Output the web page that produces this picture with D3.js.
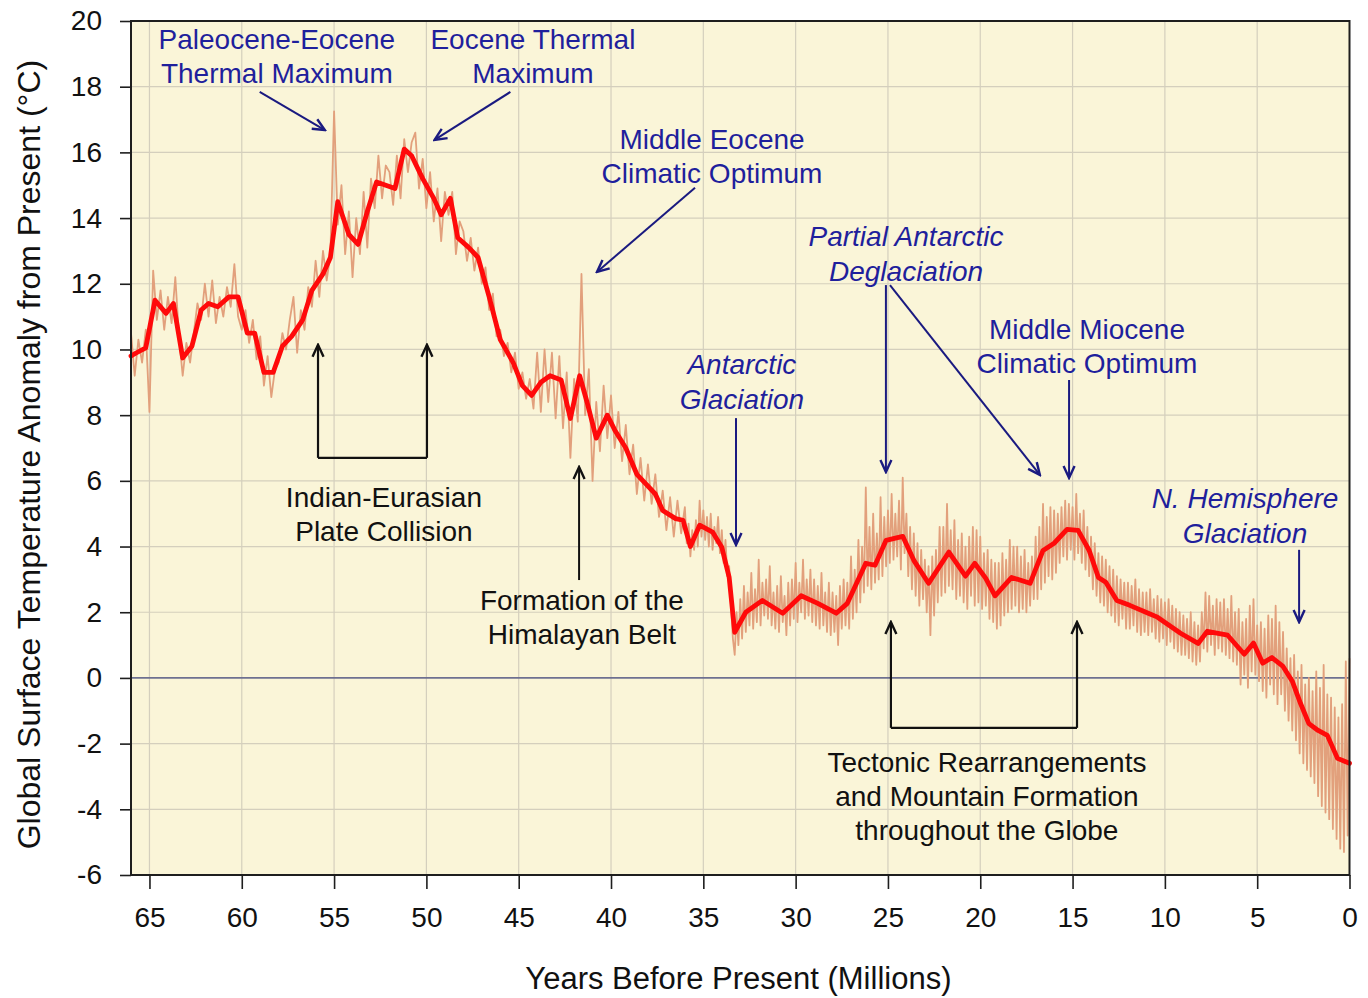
<!DOCTYPE html>
<html>
<head>
<meta charset="utf-8">
<script src="https://cdn.jsdelivr.net/npm/d3@7"></script>
<style>
  body { margin: 0; background: #ffffff; }
  svg { display: block; }
  text { font-family: "Liberation Sans", Arial, Helvetica, sans-serif; }
</style>
</head>
<body>
<svg id="chart" width="1368" height="998"></svg>
<script>
// Smoothed temperature anomaly (°C) against age (millions of years before present)
const smoothAge = [66.0, 65.7, 65.2, 64.7, 64.1, 63.7, 63.2, 62.7, 62.2, 61.8, 61.3, 60.7, 60.2, 59.7, 59.3,
  58.8, 58.3, 57.8, 57.3, 56.7, 56.2, 55.6, 55.2, 54.8, 54.2, 53.7, 53.2, 52.7, 52.2, 51.7, 51.2, 50.8,
  50.2, 49.6, 49.2, 48.7, 48.3, 47.7, 47.2, 46.6, 46.0, 45.3, 44.8, 44.3, 43.8, 43.3, 42.7, 42.2, 41.7,
  41.3, 40.8, 40.2, 39.8, 39.2, 38.6, 38.1, 37.6, 37.2, 36.5, 36.1, 35.7, 35.2, 34.5, 34.0, 33.6, 33.3,
  32.7, 31.8, 30.7, 29.7, 28.8, 27.8, 27.2, 26.2, 25.7, 25.1, 24.2, 23.6, 22.8, 21.7, 20.8, 20.3, 19.7,
  19.2, 18.3, 17.3, 16.6, 16.0, 15.3, 14.7, 14.1, 13.6, 13.2, 12.6, 11.9, 10.9, 10.4, 9.15, 8.2, 7.7,
  6.6, 5.7, 5.2, 4.7, 4.2, 3.6, 3.1, 2.65, 2.2, 1.7, 1.2, 0.65, 0.0];
const smoothTemp = [9.8, 9.9, 10.05, 11.5, 11.1, 11.4, 9.74, 10.1, 11.2, 11.4, 11.3, 11.6, 11.6, 10.5, 10.5,
  9.3, 9.3, 10.1, 10.4, 10.9, 11.8, 12.3, 12.8, 14.5, 13.5, 13.2, 14.2, 15.1, 15.0, 14.9, 16.1, 15.9,
  15.2, 14.6, 14.1, 14.6, 13.4, 13.1, 12.8, 11.6, 10.3, 9.6, 8.9, 8.6, 9.0, 9.2, 9.07, 7.9, 9.2,
  8.4, 7.3, 8.0, 7.55, 7.0, 6.2, 5.9, 5.6, 5.1, 4.85, 4.8, 4.0, 4.65, 4.44, 3.98, 3.06, 1.39,
  2.0, 2.36, 1.97, 2.5, 2.27, 1.97, 2.27, 3.49, 3.43, 4.19, 4.31, 3.58, 2.88, 3.83, 3.1, 3.49, 3.03,
  2.5, 3.06, 2.88, 3.88, 4.1, 4.52, 4.49, 3.88, 3.06, 2.91, 2.36, 2.21, 1.97, 1.85, 1.36, 1.05, 1.42,
  1.3, 0.72, 1.06, 0.45, 0.62, 0.35, -0.1, -0.78, -1.39, -1.6, -1.75, -2.45, -2.6];

// Full-resolution record, older part: every 0.2 Myr from 66.0 to 36.2 Myr
const olderFirstAge = 66.0;
const olderInterval = 0.2;
const olderDetailTemp = [
  10.5, 9.2, 10.3, 9.6, 10.6, 8.1, 12.4, 10.9, 11.8, 10.6,
  11.6, 10.8, 12.2, 10.4, 9.2, 10.2, 9.6, 10.5, 11.4, 10.9,
  12.0, 11.0, 12.1, 10.8, 11.6, 11.0, 11.9, 11.3, 12.6, 11.0,
  10.6, 11.2, 10.2, 10.9, 9.7, 10.4, 8.9, 9.8, 8.55, 9.4,
  9.6, 10.5, 10.0, 10.9, 11.6, 9.9, 11.2, 10.6, 11.9, 11.3,
  12.7, 11.6, 13.0, 12.1, 12.9, 17.25, 13.8, 15.0, 12.9, 14.2,
  12.2, 14.0, 12.9, 14.8, 13.1, 15.2, 14.3, 15.9, 14.6, 15.6,
  15.4, 14.4, 15.9, 14.6, 16.4, 15.4, 16.3, 16.6, 14.9, 15.8,
  14.3, 15.4, 13.9, 14.9, 13.3, 14.8, 14.1, 14.8, 12.9, 13.9,
  13.6, 12.7, 13.4, 12.4, 13.1, 12.0, 12.5, 11.2, 11.7, 10.4,
  10.6, 9.8, 10.2, 9.3, 9.9, 8.8, 9.3, 8.5, 9.1, 8.2,
  9.9, 8.1, 10.0, 8.4, 9.9, 7.9, 9.8, 7.6, 9.3, 6.7,
  9.1, 7.8, 12.3, 8.0, 9.4, 6.0, 8.4, 6.9, 8.9, 7.3,
  8.6, 7.0, 8.1, 6.6, 7.7, 6.2, 7.1, 5.6, 6.7, 5.4,
  6.5, 5.3, 6.2, 4.9, 5.7, 4.5, 5.5, 4.3, 5.4, 4.4
];

// Full-resolution record, younger part: every 0.1 Myr from 36.0 Myr to the present
const youngerFirstAge = 36.0;
const youngerInterval = 0.1;
const youngerDetailTemp = [
  5.2, 4.1, 4.7, 3.7, 4.5, 3.9, 4.8, 4.0, 5.4, 4.3,
  5.1, 4.2, 4.9, 4.0, 5.0, 3.9, 4.6, 4.1, 4.9, 3.8,
  4.5, 3.5, 4.2, 3.1, 3.4, 2.2, 1.2, 0.7, 2.0, 1.0,
  2.4, 1.2, 2.8, 1.4, 2.6, 1.6, 3.2, 1.5, 2.7, 1.7,
  3.6, 1.6, 2.9, 1.9, 3.0, 1.8, 3.4, 1.6, 2.6, 1.5,
  2.8, 1.4, 3.1, 1.7, 2.5, 1.3, 2.9, 1.6, 3.0, 1.8,
  3.5, 1.7, 2.9, 2.0, 3.6, 1.8, 3.0, 1.9, 3.3, 1.7,
  3.0, 1.6, 2.8, 1.5, 3.2, 1.6, 2.6, 1.4, 2.9, 1.3,
  2.6, 1.4, 2.5, 1.0, 2.8, 1.5, 3.0, 1.6, 2.9, 1.5,
  3.7, 1.8, 3.3, 2.0, 4.2, 2.3, 4.0, 2.6, 5.8, 2.8,
  4.6, 2.7, 5.0, 2.9, 4.4, 3.0, 5.5, 3.1, 4.9, 3.4,
  5.1, 3.5, 5.6, 3.6, 5.0, 3.7, 5.4, 3.3, 6.1, 3.8,
  5.0, 3.1, 4.6, 2.7, 4.4, 2.5, 4.1, 2.2, 3.9, 2.4,
  3.6, 2.0, 3.4, 1.3, 3.7, 1.9, 3.9, 2.3, 4.6, 2.5,
  4.6, 2.6, 5.3, 2.8, 4.5, 2.7, 4.8, 2.4, 4.2, 2.5,
  4.4, 2.3, 4.0, 2.1, 4.3, 2.5, 4.6, 2.2, 4.5, 2.3,
  4.3, 2.1, 3.8, 2.2, 3.9, 1.8, 3.6, 1.7, 3.5, 1.5,
  3.5, 1.6, 3.8, 1.9, 3.6, 2.0, 4.2, 2.1, 4.0, 2.2,
  4.0, 2.0, 3.7, 2.1, 3.9, 2.0, 3.5, 2.2, 3.7, 2.4,
  4.3, 2.4, 4.6, 2.7, 5.3, 2.9, 4.9, 3.1, 5.2, 3.0,
  5.1, 3.2, 5.0, 3.5, 5.2, 3.7, 5.4, 3.6, 5.3, 3.9,
  5.2, 3.6, 5.6, 3.8, 5.0, 3.5, 5.1, 3.3, 4.6, 3.1,
  4.3, 2.7, 4.1, 2.5, 3.8, 2.3, 3.7, 2.2, 3.6, 2.0,
  3.4, 1.9, 3.3, 1.7, 3.1, 1.6, 3.0, 1.8, 2.9, 1.5,
  2.9, 1.5, 2.8, 1.6, 3.0, 1.4, 2.7, 1.3, 2.6, 1.4,
  2.6, 1.3, 2.7, 1.4, 2.4, 1.2, 2.5, 1.1, 2.4, 1.2,
  2.3, 1.0, 2.4, 1.1, 2.2, 0.9, 2.1, 0.8, 2.0, 0.7,
  1.9, 0.7, 1.8, 0.6, 2.0, 0.5, 1.7, 0.4, 1.6, 0.5,
  2.0, 0.9, 2.6, 0.8, 2.5, 1.0, 2.2, 0.7, 2.4, 0.9,
  2.3, 0.8, 2.4, 0.7, 2.1, 0.6, 2.5, 0.5, 2.0, 0.4,
  2.1, -0.2, 1.7, 0.1, 1.8, -0.3, 2.2, 0.2, 2.4, 0.1,
  1.6, -0.1, 1.7, -0.4, 1.5, -0.6, 1.9, -0.2, 1.8, -0.5,
  2.2, -0.8, 1.7, -0.5, 1.4, -1.0, 0.9, -1.3, 0.6, -1.6,
  0.7, -1.9, 0.2, -2.3, 0.4, -2.6, -0.2, -2.8, 0.0, -3.0,
  -0.4, -3.2, 0.2, -3.6, -0.3, -3.9, 0.4, -4.1, -0.5, -4.3,
  -0.6, -4.6, -0.9, -4.9, -1.2, -5.2, -0.8, -5.3, 0.5, -4.8,
  0.6
];

const yTickValues = [20, 18, 16, 14, 12, 10, 8, 6, 4, 2, 0, -2, -4, -6];
const xTickValues = [65, 60, 55, 50, 45, 40, 35, 30, 25, 20, 15, 10, 5, 0];

// Labelled events: text anchor = (age, anomaly) of the first line's baseline
const eventNotes = [
  { lines: ["Paleocene-Eocene", "Thermal Maximum"], age: 58.1, temp: 19.16, tone: "blue", italic: false },
  { lines: ["Eocene Thermal", "Maximum"], age: 44.23, temp: 19.16, tone: "blue", italic: false },
  { lines: ["Middle Eocene", "Climatic Optimum"], age: 34.53, temp: 16.10, tone: "blue", italic: false },
  { lines: ["Partial Antarctic", "Deglaciation"], age: 24.02, temp: 13.15, tone: "blue", italic: true },
  { lines: ["Middle Miocene", "Climatic Optimum"], age: 14.22, temp: 10.33, tone: "blue", italic: false },
  { lines: ["Antarctic", "Glaciation"], age: 32.91, temp: 9.26, tone: "blue", italic: true },
  { lines: ["N. Hemisphere", "Glaciation"], age: 5.66, temp: 5.18, tone: "blue", italic: true },
  { lines: ["Indian-Eurasian", "Plate Collision"], age: 52.3, temp: 5.21, tone: "black", italic: false },
  { lines: ["Formation of the", "Himalayan Belt"], age: 41.58, temp: 2.07, tone: "black", italic: false },
  { lines: ["Tectonic Rearrangements", "and Mountain Formation", "throughout the Globe"], age: 19.64, temp: -2.86, tone: "black", italic: false }
];

// Pointer arrows, given as [age, anomaly] start and end
const pointerArrows = [
  { from: [59.03, 17.84], to: [55.5, 16.68], tone: "blue" },
  { from: [45.45, 17.84], to: [49.56, 16.38], tone: "blue" },
  { from: [35.45, 14.92], to: [40.76, 12.36], tone: "blue" },
  { from: [25.11, 11.96], to: [25.11, 6.27], tone: "blue" },
  { from: [24.89, 11.96], to: [16.77, 6.18], tone: "blue" },
  { from: [15.19, 9.07], to: [15.19, 6.09], tone: "blue" },
  { from: [33.23, 7.91], to: [33.23, 4.05], tone: "blue" },
  { from: [2.73, 3.9], to: [2.73, 1.7], tone: "blue" },
  { from: [41.73, 2.98], to: [41.73, 6.42], tone: "black" }
];

// U-shaped brackets with upward arrows at both ends
const brackets = [
  { left: 55.87, right: 49.97, top: 10.14, bottom: 6.70 },
  { left: 24.84, right: 14.76, top: 1.70, bottom: -1.52 }
];

const colors = {
  page: "#ffffff",
  plot: "#faf5d8",
  grid: "#d4cfbd",
  zero: "#6e7090",
  frame: "#1e1e1e",
  detail: "#e2a07c",
  smooth: "#ff0a0a",
  blue: "#1f1f9c",
  blueArrow: "#1a1a80",
  black: "#111111"
};

const svg = d3.select("#chart");
const W = 1368, H = 998;
const margin = { top: 21, right: 18.5, bottom: 123, left: 131 };
const iw = W - margin.left - margin.right;
const ih = H - margin.top - margin.bottom;

const x = d3.scaleLinear().domain([66, 0]).range([0, iw]);
const y = d3.scaleLinear().domain([-6, 20]).range([ih, 0]);

const defs = svg.append("defs");
function addMarker(id, color) {
  defs.append("marker")
    .attr("id", id)
    .attr("viewBox", "-14 -8 16 16")
    .attr("refX", 0).attr("refY", 0)
    .attr("markerWidth", 16).attr("markerHeight", 16)
    .attr("markerUnits", "userSpaceOnUse")
    .attr("orient", "auto")
    .append("path")
    .attr("d", "M-12,-5.5 L0,0 L-12,5.5")
    .attr("fill", "none")
    .attr("stroke", color)
    .attr("stroke-width", 2.4)
    .attr("stroke-linejoin", "miter");
}
addMarker("head-blue", colors.blueArrow);
addMarker("head-black", colors.black);

const g = svg.append("g").attr("transform", `translate(${margin.left},${margin.top})`);

// plot background
g.append("rect").attr("width", iw).attr("height", ih).attr("fill", colors.plot);

// grid
g.append("g").selectAll("line").data(yTickValues.filter(v => v !== 0 && v !== 20 && v !== -6))
  .join("line")
  .attr("x1", 0).attr("x2", iw)
  .attr("y1", d => y(d)).attr("y2", d => y(d))
  .attr("stroke", colors.grid).attr("stroke-width", 1.2);
g.append("g").selectAll("line").data(xTickValues.filter(v => v !== 0))
  .join("line")
  .attr("x1", d => x(d)).attr("x2", d => x(d))
  .attr("y1", 0).attr("y2", ih)
  .attr("stroke", colors.grid).attr("stroke-width", 1.2);

// zero line
g.append("line")
  .attr("x1", 0).attr("x2", iw)
  .attr("y1", y(0)).attr("y2", y(0))
  .attr("stroke", colors.zero).attr("stroke-width", 1.6);

// series
const detailPoints = olderDetailTemp.map((v, i) => [olderFirstAge - i * olderInterval, v])
  .concat(youngerDetailTemp.map((v, i) => [youngerFirstAge - i * youngerInterval, v]));
const line = d3.line().x(d => x(d[0])).y(d => y(d[1]));

g.append("path")
  .datum(detailPoints)
  .attr("d", line)
  .attr("fill", "none")
  .attr("stroke", colors.detail)
  .attr("stroke-width", 1.8)
  .attr("stroke-linejoin", "round");

const smoothPoints = smoothAge.map((a, i) => [a, smoothTemp[i]]);
g.append("path")
  .datum(smoothPoints)
  .attr("d", line)
  .attr("fill", "none")
  .attr("stroke", colors.smooth)
  .attr("stroke-width", 4.8)
  .attr("stroke-linejoin", "round")
  .attr("stroke-linecap", "round");

// frame
g.append("rect").attr("width", iw).attr("height", ih)
  .attr("fill", "none").attr("stroke", colors.frame).attr("stroke-width", 2);

// axes
const plainNumber = d => String(d);
const yAxis = d3.axisLeft(y).tickValues(yTickValues).tickSize(11).tickPadding(18).tickFormat(plainNumber);
const yAx = g.append("g").call(yAxis);
yAx.select(".domain").remove();
yAx.selectAll(".tick line").attr("stroke", colors.frame).attr("stroke-width", 1.6);
yAx.selectAll(".tick text").attr("font-size", 28).attr("fill", "#111").attr("font-family", "Liberation Sans, Arial, sans-serif");

const xAxis = d3.axisBottom(x).tickValues(xTickValues).tickSize(14).tickPadding(18).tickFormat(plainNumber);
const xAx = g.append("g").attr("transform", `translate(0,${ih})`).call(xAxis);
xAx.select(".domain").remove();
xAx.selectAll(".tick line").attr("stroke", colors.frame).attr("stroke-width", 1.6);
xAx.selectAll(".tick text").attr("font-size", 28).attr("fill", "#111").attr("font-family", "Liberation Sans, Arial, sans-serif");

// axis titles
svg.append("text")
  .attr("x", margin.left + x(33.1)).attr("y", 989)
  .attr("text-anchor", "middle").attr("font-size", 31).attr("fill", "#111")
  .text("Years Before Present (Millions)");
svg.append("text")
  .attr("transform", `translate(40,${margin.top + y(6.8)}) rotate(-90)`)
  .attr("text-anchor", "middle").attr("font-size", 32).attr("fill", "#111")
  .text("Global Surface Temperature Anomaly from Present (°C)");

// pointer arrows
g.append("g").selectAll("line").data(pointerArrows).join("line")
  .attr("x1", d => x(d.from[0])).attr("y1", d => y(d.from[1]))
  .attr("x2", d => x(d.to[0])).attr("y2", d => y(d.to[1]))
  .attr("stroke", d => d.tone === "blue" ? colors.blueArrow : colors.black)
  .attr("stroke-width", 2)
  .attr("marker-end", d => d.tone === "blue" ? "url(#head-blue)" : "url(#head-black)");

// brackets
const bracketGroup = g.append("g");
brackets.forEach(b => {
  bracketGroup.append("path")
    .attr("d", `M${x(b.left)},${y(b.bottom)} L${x(b.right)},${y(b.bottom)}`)
    .attr("stroke", colors.black).attr("stroke-width", 2.2).attr("fill", "none");
  [b.left, b.right].forEach(a => {
    bracketGroup.append("line")
      .attr("x1", x(a)).attr("y1", y(b.bottom))
      .attr("x2", x(a)).attr("y2", y(b.top))
      .attr("stroke", colors.black).attr("stroke-width", 2.2)
      .attr("marker-end", "url(#head-black)");
  });
});

// event labels
const noteGroup = g.append("g");
eventNotes.forEach(n => {
  const t = noteGroup.append("text")
    .attr("x", x(n.age)).attr("y", y(n.temp))
    .attr("text-anchor", "middle")
    .attr("font-size", 28)
    .attr("font-style", n.italic ? "italic" : "normal")
    .attr("fill", n.tone === "blue" ? colors.blue : colors.black);
  n.lines.forEach((s, i) => {
    t.append("tspan")
      .attr("x", x(n.age))
      .attr("dy", i === 0 ? 0 : (n.italic ? 35 : 34))
      .text(s);
  });
});
</script>
</body>
</html>
